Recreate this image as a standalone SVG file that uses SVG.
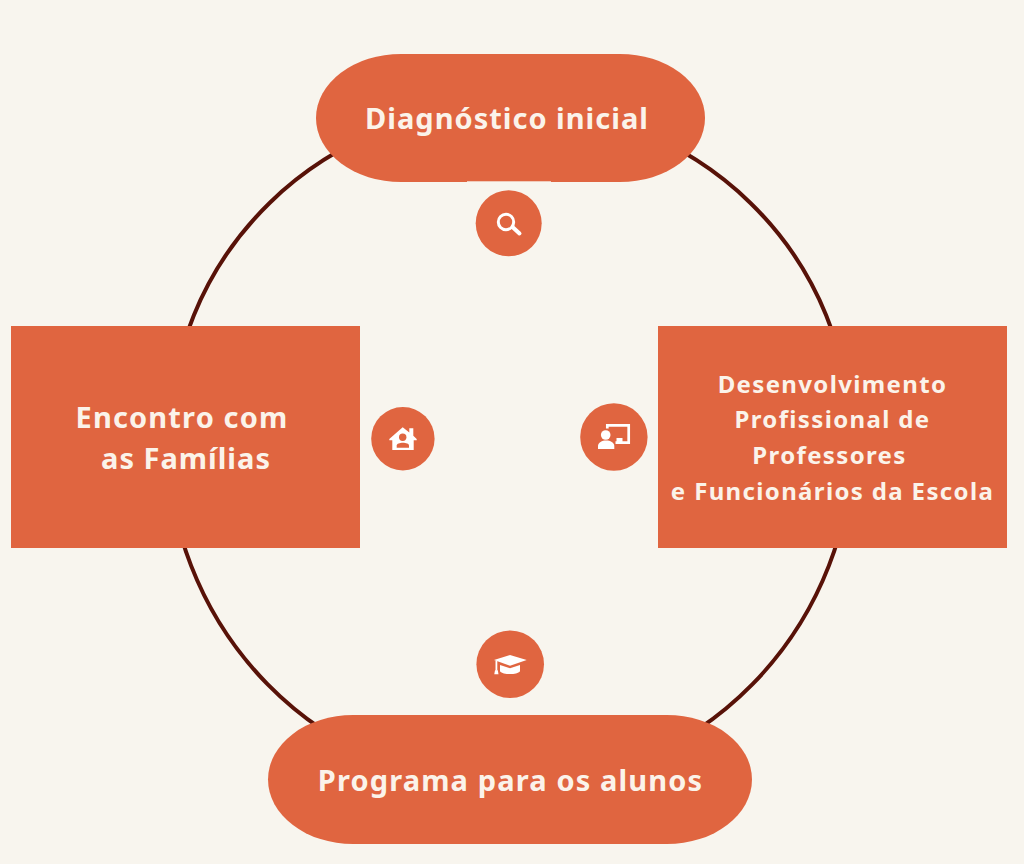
<svg xmlns="http://www.w3.org/2000/svg" width="1024" height="864" viewBox="0 0 1024 864">
<style>
.n{fill:#e06540}
.t{fill:#fbf3ea;font-family:"Noto Sans","Open Sans",sans-serif;font-weight:700;text-anchor:middle}
.g{fill:#fff}
.w{fill:none;stroke:#fff}
.c{fill:none;stroke:#581208;stroke-width:4}
</style>
<rect width="1024" height="864" fill="#f8f5ee"/>
<g id="connectors"><path class="c" d="M170 437A340 331 0 0 1 850 437"/><path class="c" d="M167 437A343 349.500 0 0 0 853 437"/></g>
<g id="diagnostico"><rect class="n" x="316" y="54" width="389" height="128" rx="85" ry="64"/><text class="t" x="507" y="129" font-size="29" letter-spacing="1">Diagnóstico inicial</text></g>
<g id="familias"><rect class="n" x="11" y="326" width="349" height="222"/><text class="t" x="182" y="428" font-size="29" letter-spacing="1.150">Encontro com</text><text class="t" x="186" y="469" font-size="29" letter-spacing="1">as Famílias</text></g>
<g id="professores"><rect class="n" x="658" y="326" width="349" height="222"/><text class="t" font-size="24" letter-spacing="1.350"><tspan x="832.500" y="393">Desenvolvimento</tspan><tspan x="832.500" y="428">Profissional de</tspan><tspan x="829.500" y="464">Professores</tspan><tspan x="832.500" y="500">e Funcionários da Escola</tspan></text></g>
<g id="programa"><rect class="n" x="268" y="715" width="484" height="129" rx="85" ry="64.500"/><text class="t" x="510.500" y="791" font-size="29" letter-spacing="1.130">Programa para os alunos</text></g>
<g id="icon-search"><rect x="467" y="181.300" width="84" height="1" fill="#f8f5ee"/><circle class="n" cx="508.700" cy="223.300" r="33"/><circle class="w" cx="506" cy="222" r="7.700" stroke-width="3"/><path class="w" d="M513 227.500L519.500 233.500" stroke-width="4" stroke-linecap="round"/></g>
<g id="icon-home"><circle class="n" cx="402.900" cy="438.700" r="31.700"/><path class="g" d="M402.700 427.300L409.300 432.500V428.300H413.300V435.800L416.700 439V440.300H413.700V450H392.300V440.300H389.300V439Z"/><circle class="n" cx="402.700" cy="437.300" r="3.700"/><path class="n" d="M396.700 447.700V445.500C396.700 441.800 409 441.800 409 445.500V447.700Z"/></g>
<g id="icon-teacher"><circle class="n" cx="613.900" cy="437" r="33.700"/><path class="w" d="M607.300 428.500V425.300H628.700V442.700H615.500" stroke-width="2.700"/><path class="g" d="M616.500 438h6v5h-6z"/><circle class="g" cx="605.700" cy="435" r="4.800"/><path class="g" d="M598 449V446C598 438.500 614.300 438.500 614.300 446V449Z"/></g>
<g id="icon-cap"><circle class="n" cx="510.200" cy="664.200" r="33.800"/><path class="g" d="M494 660L510 655L526.700 660L510 665.700Z"/><path class="g" d="M500 665L510 668.200L520 665V671.200C517 675 503 675 500 671.200Z"/><path class="w" d="M496.400 660.700V670.700" stroke-width="1.800"/><path class="g" d="M495 670.200h2.800l.7 4h-4.200z"/></g>
</svg>
